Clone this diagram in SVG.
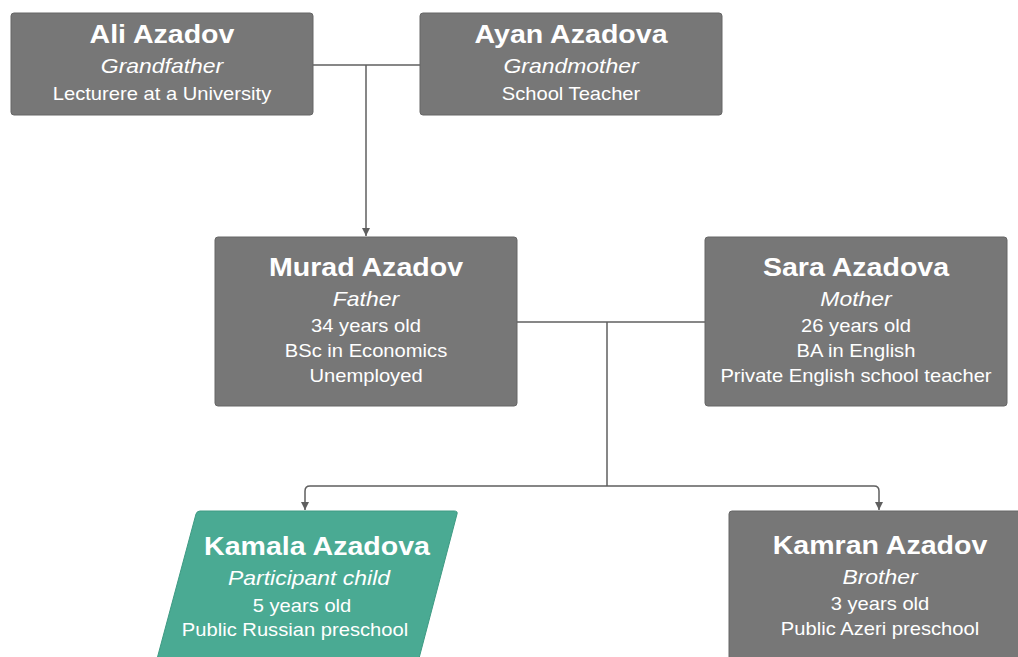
<svg xmlns="http://www.w3.org/2000/svg" width="1018" height="657" viewBox="0 0 1018 657">
  <style>
    .box { fill: #777777; stroke: #666666; stroke-width: 1; }
    .kid { fill: #4aaa93; stroke: #3e9a83; stroke-width: 1; }
    .name { font-family: "Liberation Sans", Arial, sans-serif; font-weight: bold; font-size: 25.5px; fill: #ffffff; text-anchor: middle; }
    .role { font-family: "Liberation Sans", Arial, sans-serif; font-style: italic; font-size: 20.5px; fill: #ffffff; text-anchor: middle; }
    .info { font-family: "Liberation Sans", Arial, sans-serif; font-size: 18px; fill: #ffffff; text-anchor: middle; }
    .link { fill: none; stroke: #5f5f5f; stroke-width: 1.5; }
  </style>
  <defs>
    <marker id="arrow" markerWidth="10" markerHeight="10" refX="8" refY="5" orient="auto" markerUnits="userSpaceOnUse">
      <path d="M0,1 L8,5 L0,9 Z" fill="#5f5f5f"/>
    </marker>
  </defs>
  <rect width="1018" height="657" fill="#ffffff"/>

  <g id="connectors">
    <path class="link" d="M313,65 H420"/>
    <path class="link" d="M366,65 V236" marker-end="url(#arrow)"/>
    <path class="link" d="M517,322 H705"/>
    <path class="link" d="M607,322 V486"/>
    <path class="link" d="M607,486 H310 Q305,486 305,491 V510" marker-end="url(#arrow)"/>
    <path class="link" d="M607,486 H874 Q879,486 879,491 V510" marker-end="url(#arrow)"/>
  </g>

  <g id="ali">
    <rect class="box" x="11" y="13" width="302" height="102" rx="3"/>
    <g transform="translate(162,0) scale(1.12,1)">
      <text class="name" x="0" y="43">Ali Azadov</text>
      <text class="role" x="0" y="73">Grandfather</text>
      <text class="info" x="0" y="100">Lecturere at a University</text>
    </g>
  </g>

  <g id="ayan">
    <rect class="box" x="420" y="13" width="302" height="102" rx="3"/>
    <g transform="translate(571,0) scale(1.12,1)">
      <text class="name" x="0" y="43">Ayan Azadova</text>
      <text class="role" x="0" y="73">Grandmother</text>
      <text class="info" x="0" y="100">School Teacher</text>
    </g>
  </g>

  <g id="murad">
    <rect class="box" x="215" y="237" width="302" height="169" rx="3"/>
    <g transform="translate(366,0) scale(1.12,1)">
      <text class="name" x="0" y="276">Murad Azadov</text>
      <text class="role" x="0" y="306">Father</text>
      <text class="info" x="0" y="332">34 years old</text>
      <text class="info" x="0" y="357">BSc in Economics</text>
      <text class="info" x="0" y="382">Unemployed</text>
    </g>
  </g>

  <g id="sara">
    <rect class="box" x="705" y="237" width="302" height="169" rx="3"/>
    <g transform="translate(856,0) scale(1.12,1)">
      <text class="name" x="0" y="276">Sara Azadova</text>
      <text class="role" x="0" y="306">Mother</text>
      <text class="info" x="0" y="332">26 years old</text>
      <text class="info" x="0" y="357">BA in English</text>
      <text class="info" x="0" y="382">Private English school teacher</text>
    </g>
  </g>

  <g id="kamala">
    <path class="kid" d="M200,511 H454 Q458,511 457,514 L412,685 H150 L196,514 Q197,511 200,511 Z"/>
    <g transform="translate(317,555) scale(1.12,1)">
      <text class="name" x="0" y="0">Kamala Azadova</text>
    </g>
    <g transform="translate(309,585) scale(1.12,1)">
      <text class="role" x="0" y="0">Participant child</text>
    </g>
    <g transform="translate(302,612) scale(1.12,1)">
      <text class="info" x="0" y="0">5 years old</text>
    </g>
    <g transform="translate(295,636) scale(1.12,1)">
      <text class="info" x="0" y="0">Public Russian preschool</text>
    </g>
  </g>

  <g id="kamran">
    <rect class="box" x="729" y="511" width="302" height="169" rx="3"/>
    <g transform="translate(880,0) scale(1.12,1)">
      <text class="name" x="0" y="554">Kamran Azadov</text>
      <text class="role" x="0" y="584">Brother</text>
      <text class="info" x="0" y="610">3 years old</text>
      <text class="info" x="0" y="635">Public Azeri preschool</text>
    </g>
  </g>
</svg>
